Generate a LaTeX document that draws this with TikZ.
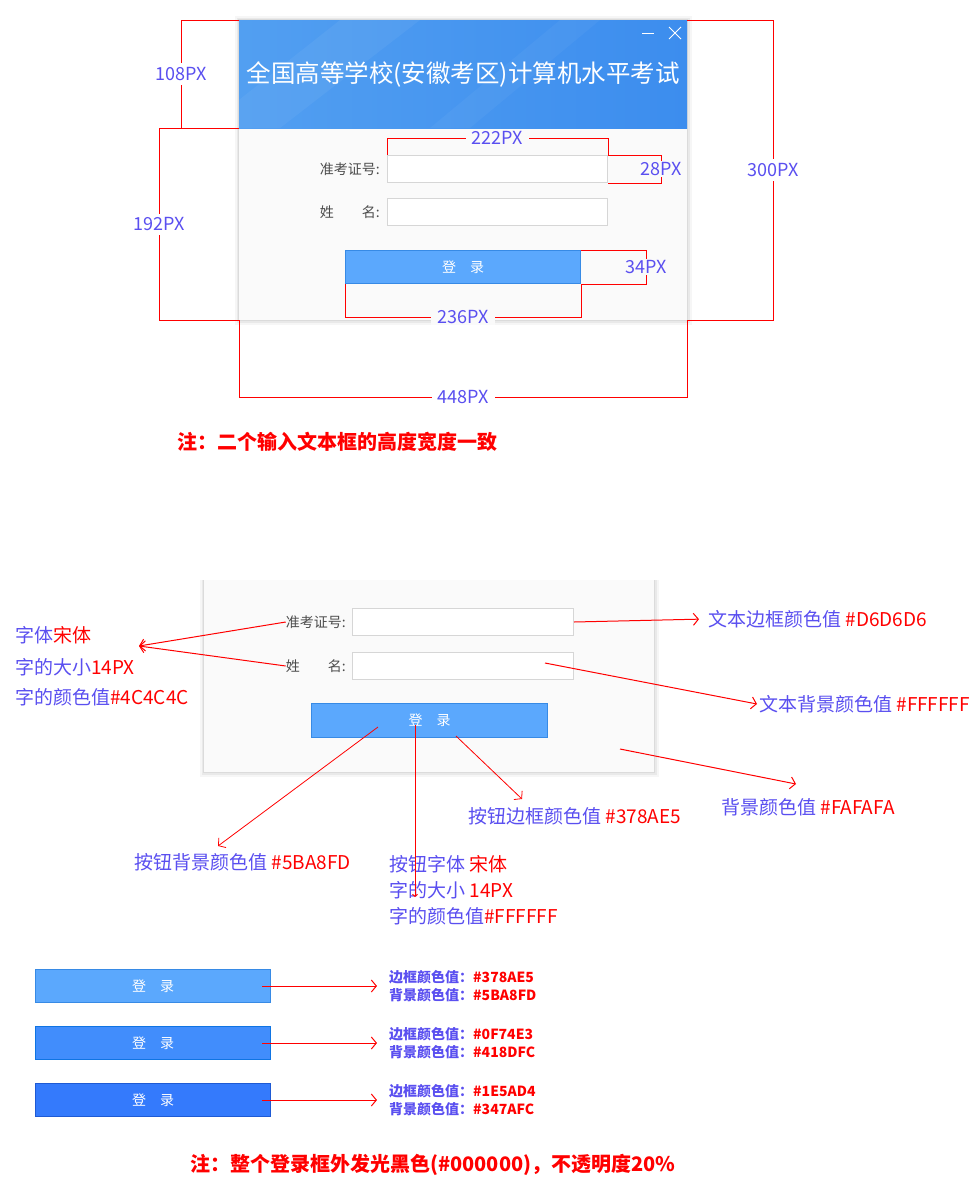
\documentclass[tikz,border=0pt]{standalone}
\usepackage{fontspec}
\setmainfont{Noto Sans CJK SC}
\usetikzlibrary{arrows.meta,positioning}
\definecolor{annoblue}{HTML}{5A4FF0}
\definecolor{dlgbg}{HTML}{FAFAFA}
\definecolor{boxline}{HTML}{D6D6D6}
\definecolor{lbltext}{HTML}{4C4C4C}
\definecolor{hdrleft}{HTML}{529FF1}
\definecolor{hdrright}{HTML}{3C8DEE}
\definecolor{btnfillA}{HTML}{5BA8FD}
\definecolor{btnlineA}{HTML}{378AE5}
\definecolor{btnfillB}{HTML}{418DFC}
\definecolor{btnlineB}{HTML}{0F74E3}
\definecolor{btnfillC}{HTML}{347AFC}
\definecolor{btnlineC}{HTML}{1E5AD4}
\newcommand\fsz[2]{\fontsize{#1}{#2}\selectfont}

\begin{document}
\begin{tikzpicture}[x=1pt,y=-1pt,
    dim/.style={draw=red,line width=1pt},
    dimlbl/.style={text=annoblue,font=\fsz{18}{18},inner xsep=6pt,inner ysep=4pt,fill=white},
    arr/.style={draw=red,line width=1pt,-{Straight Barb[length=5pt,width=12pt]}},
    anno/.style={text=annoblue,font=\fsz{19}{19},inner sep=2pt,anchor=west},
    swatch/.style={text=annoblue,font=\fsz{14}{18}\bfseries,inner sep=2pt,anchor=west,align=left},
    note/.style={text=red,font=\fsz{20}{20}\bfseries,inner sep=0pt,anchor=west},
    glow/.style={preaction={draw=black,draw opacity=.035,line width=9pt},
                 preaction={draw=black,draw opacity=.05,line width=5pt},
                 preaction={draw=black,draw opacity=.06,line width=2pt}},
    panel/.style={fill=dlgbg,inner sep=0pt,anchor=north west},
    field/.style={fill=white,draw=boxline,line width=1pt,inner sep=0pt,anchor=north west,
                  minimum width=220pt,minimum height=27pt},
    fieldlbl/.style={text=lbltext,font=\fsz{14}{14},inner sep=0pt},
    button/.style={draw=btnlineA,fill=btnfillA,line width=1pt,inner sep=0pt,anchor=north west,
                   minimum width=235pt,minimum height=33pt,text=white,font=\fsz{14}{14}},
  ]
  \useasboundingbox[fill=white] (0,0) rectangle (978,1200);

  % login dialog with sizes
  \path[glow] (239,20) rectangle (687,320);
  \node[panel,minimum width=448pt,minimum height=300pt] (dlg) at (239,20) {};
  \node[panel,minimum width=448pt,minimum height=108pt,left color=hdrleft,right color=hdrright] (hdr) at (239,20) {};
  \begin{scope}
    \clip (hdr.north west) rectangle (hdr.south east);
    \fill[white,opacity=.05] (239,100) -- (340,20) -- (420,20) -- (280,128) -- (239,128) -- cycle;
    \fill[white,opacity=.04] (430,128) -- (560,20) -- (600,20) -- (470,128) -- cycle;
  \end{scope}
  \node[text=white,font=\fsz{24.5}{25},inner sep=0pt] (title) at (hdr.center) {全国高等学校(安徽考区)计算机水平考试};
  \draw[white,line width=1pt] (642,33) -- (654,33);
  \draw[white,line width=1pt] (669,27) -- (681,39) (669,39) -- (681,27);
  \node[field] (idbox) at (387,155) {};
  \node[field] (namebox) at (387,198) {};
  \node[fieldlbl,left=7pt of idbox] (idlbl) {准考证号:};
  \node[fieldlbl,left=7pt of namebox] (namelbl) {姓　　名:};
  \node[button] (btn) at (345,250) {登　录};

  \draw[dim] (hdr.north west) -- ++(-58,0) |- (hdr.south west) node[dimlbl,pos=.25] {108PX};
  \draw[dim] (hdr.south west) -- ++(-80,0) |- (dlg.south west) node[dimlbl,pos=.25] {192PX};
  \draw[dim] (dlg.north east) -- ++(86,0) |- (dlg.south east) node[dimlbl,pos=.25] {300PX};
  \draw[dim] (dlg.south west) -- ++(0,77) -| (dlg.south east) node[dimlbl,pos=.25] {448PX};
  \draw[dim] (idbox.north west) -- ++(0,-17) -| (idbox.north east) node[dimlbl,fill=dlgbg,inner ysep=1pt,pos=.25] {222PX};
  \draw[dim] (idbox.north east) -- ++(53,0) |- (idbox.south east) node[dimlbl,fill=dlgbg,inner sep=1pt,pos=.25] {28PX};
  \draw[dim] (btn.north east) -- ++(65,0) |- (btn.south east) node[dimlbl,fill=dlgbg,inner sep=1pt,pos=.25] {34PX};
  \draw[dim] (btn.south west) -- ++(0,33) -| (btn.south east) node[dimlbl,fill=dlgbg,inner ysep=1pt,pos=.25] {236PX};

  \node[note] (note1) at (177,442) {注：二个输入文本框的高度宽度一致};

  % colours of the dialog
  \path[glow] (204,580) |- (654,772) -- (654,580);
  \node[panel,minimum width=450pt,minimum height=192pt] (dlgB) at (204,580) {};
  \node[field,minimum width=221pt] (idboxB) at (352,608) {};
  \node[field,minimum width=221pt] (nameboxB) at (352,652) {};
  \node[fieldlbl,left=6pt of idboxB] (idlblB) {准考证号:};
  \node[fieldlbl,left=6pt of nameboxB] (namelblB) {姓　　名:};
  \node[button,minimum width=236pt,minimum height=34pt] (btnB) at (311,703) {登　录};

  \node[anno,align=left] (fnt) at (13,635) {字体\textcolor{red}{宋体}};
  \node[anno] (fntsize) at (13,667) {字的大小\textcolor{red}{14PX}};
  \node[anno] (fntcol) at (13,697) {字的颜色值\textcolor{red}{\#4C4C4C}};
  \node[anno] (bordtxt) at (706,619) {文本边框颜色值 \textcolor{red}{\#D6D6D6}};
  \node[anno] (bgtxt) at (757,704) {文本背景颜色值 \textcolor{red}{\#FFFFFF}};
  \node[anno] (dlgbgtxt) at (719,807) {背景颜色值 \textcolor{red}{\#FAFAFA}};
  \node[anno] (btnbordtxt) at (466,816) {按钮边框颜色值 \textcolor{red}{\#378AE5}};
  \node[anno] (btnbgtxt) at (132,862) {按钮背景颜色值 \textcolor{red}{\#5BA8FD}};
  \node[anno] (btnfnt) at (387,864) {按钮字体 \textcolor{red}{宋体}};
  \node[anno] (btnsize) at (387,890) {字的大小 \textcolor{red}{14PX}};
  \node[anno] (btncol) at (387,916) {字的颜色值\textcolor{red}{\#FFFFFF}};

  \coordinate (fnttip) at (139,646);
  \coordinate (bgpt) at (545,663);
  \coordinate (dlgpt) at (620,749);
  \coordinate (dlgtip) at (796,784);
  \coordinate (bordpt) at (456,736);
  \coordinate (bordtip) at (522,799);
  \coordinate (btnbgpt) at (378,727);
  \coordinate (btnbgtip) at (218,846);
  \coordinate (btnfntpt) at (415,725);
  \coordinate (btnfnttip) at (415,897);
  \draw[arr] (idlblB.west) -- (fnttip);
  \draw[arr] (namelblB.west) -- (fnttip);
  \draw[arr,shorten >=7pt] (idboxB.east) -- (bordtxt.west);
  \draw[arr] (bgpt) -- (bgtxt.west);
  \draw[arr] (dlgpt) -- (dlgtip);
  \draw[arr,line width=.8pt] (bordpt) -- (bordtip);
  \draw[arr,line width=.8pt] (btnbgpt) -- (btnbgtip);
  \draw[arr,-{Straight Barb[length=2pt,width=5pt]}] (btnfntpt) -- (btnfnttip);

  % button states
  \node[button] (stateA) at (35,969) {登　录};
  \node[button,draw=btnlineB,fill=btnfillB] (stateB) at (35,1026) {登　录};
  \node[button,draw=btnlineC,fill=btnfillC] (stateC) at (35,1083) {登　录};
  \node[swatch] (swA) at (387,986) {边框颜色值：\textcolor{red}{\#378AE5}\\背景颜色值：\textcolor{red}{\#5BA8FD}};
  \node[swatch] (swB) at (387,1043) {边框颜色值：\textcolor{red}{\#0F74E3}\\背景颜色值：\textcolor{red}{\#418DFC}};
  \node[swatch] (swC) at (387,1100) {边框颜色值：\textcolor{red}{\#1E5AD4}\\背景颜色值：\textcolor{red}{\#347AFC}};
  \draw[arr] ([xshift=-9pt]stateA.east) -- ([xshift=-10pt]swA.west);
  \draw[arr] ([xshift=-9pt]stateB.east) -- ([xshift=-10pt]swB.west);
  \draw[arr] ([xshift=-9pt]stateC.east) -- ([xshift=-10pt]swC.west);

  \node[note] (note2) at (190,1165) {注：整个登录框外发光黑色(\#000000)，不透明度20\%};
\end{tikzpicture}
\end{document}
